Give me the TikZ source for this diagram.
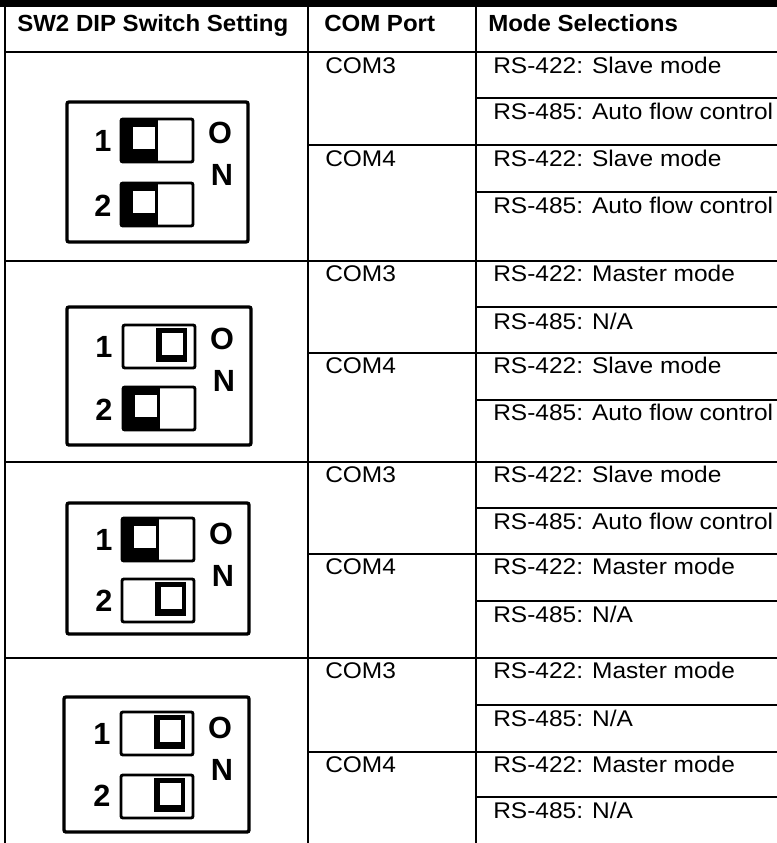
\documentclass[tikz,border=0pt]{standalone}
\usepackage{fontspec}
\setmainfont{Liberation Sans}
\newfontfamily\bodyfont[FakeStretch=1.08]{Liberation Sans}
\newfontfamily\headfont[FakeStretch=1.03]{Liberation Sans}
\usetikzlibrary{positioning}

% one slide switch, lever at the left (off) or at the right (on)
\newcommand{\swoff}[2]{%
  \fill (#1,#2) rectangle ++(37,43);
  \fill[white] (#1+12,#2+8) rectangle ++(22,22);
  \draw[swbody] (#1,#2) rectangle ++(72,43);
}
\newcommand{\swon}[2]{%
  \fill (#1+33,#2+3) rectangle ++(31,34);
  \fill[white] (#1+39,#2+8) rectangle ++(21,22);
  \draw[swbody] (#1,#2) rectangle ++(72,43);
}

\begin{document}
\begin{tikzpicture}[x=0.75pt,y=-0.75pt,
  tbl/.style={line width=1.5pt},
  dipframe/.style={line width=2.5pt,rounded corners=1.5pt},
  swbody/.style={line width=2.2pt,rounded corners=1.5pt},
  headtxt/.style={anchor=base west,inner sep=0pt,font=\headfont\bfseries\fontsize{17.5}{20}\selectfont},
  celltxt/.style={anchor=base west,inner sep=0pt,font=\bodyfont\fontsize{17}{20}\selectfont},
  diptxt/.style={inner sep=0pt,font=\bfseries\fontsize{23}{26}\selectfont}
]
\useasboundingbox (0,0) rectangle (777,843);

% the rules of the table
\fill (0,0) rectangle (777,7);
\draw[tbl] (4.5,7) -- (4.5,843);
\draw[tbl] (308,7) -- (308,843);
\draw[tbl] (476,7) -- (476,843);
\draw[tbl] (4.5,52) -- (777,52);
\draw[tbl] (4.5,261) -- (777,261);
\draw[tbl] (4.5,462) -- (777,462);
\draw[tbl] (4.5,658) -- (777,658);
\draw[tbl] (308,145) -- (777,145);
\draw[tbl] (308,353) -- (777,353);
\draw[tbl] (308,554) -- (777,554);
\draw[tbl] (308,752) -- (777,752);
\draw[tbl] (476,98) -- (777,98);
\draw[tbl] (476,192) -- (777,192);
\draw[tbl] (476,307) -- (777,307);
\draw[tbl] (476,400) -- (777,400);
\draw[tbl] (476,508) -- (777,508);
\draw[tbl] (476,601) -- (777,601);
\draw[tbl] (476,705) -- (777,705);
\draw[tbl] (476,797) -- (777,797);

% the header
\node[headtxt] (h1) at (17,31) {SW2 DIP Switch Setting};
\node[headtxt] (h2) at (324,31) {COM Port};
\node[headtxt] (h3) at (488,31) {Mode Selections};

% setting 1: both off
\draw[dipframe] (67,102) rectangle (248,242);
\swoff{121}{119}
\swoff{121}{183}
\node[diptxt] (d1a) at (103,141) {1};
\node[diptxt] (d1b) at (103,206) {2};
\node[diptxt] (o1) at (220,133) {O};
\node[diptxt,below=15pt of o1,xshift=1.5pt] (n1) {N};
\node[celltxt] (p1a) at (325,73) {COM3};
\node[celltxt] (p1b) at (325,166) {COM4};
\node[celltxt] (m1a) at (493,73) {RS-422: Slave mode};
\node[celltxt] (m1b) at (493,119) {RS-485: Auto flow control};
\node[celltxt] (m1c) at (493,166) {RS-422: Slave mode};
\node[celltxt] (m1d) at (493,213) {RS-485: Auto flow control};

% setting 2: 1 on, 2 off
\draw[dipframe] (67,307) rectangle (251,445);
\swon{123}{325}
\swoff{123}{387}
\node[diptxt] (d2a) at (104,347) {1};
\node[diptxt] (d2b) at (104,410) {2};
\node[diptxt] (o2) at (222,339) {O};
\node[diptxt,below=15pt of o2,xshift=1.5pt] (n2) {N};
\node[celltxt] (p2a) at (325,281) {COM3};
\node[celltxt] (p2b) at (325,373) {COM4};
\node[celltxt] (m2a) at (493,281) {RS-422: Master mode};
\node[celltxt] (m2b) at (493,329) {RS-485: N/A};
\node[celltxt] (m2c) at (493,373) {RS-422: Slave mode};
\node[celltxt] (m2d) at (493,420) {RS-485: Auto flow control};

% setting 3: 1 off, 2 on
\draw[dipframe] (67,503) rectangle (249,634);
\swoff{122}{518}
\swon{122}{579}
\node[diptxt] (d3a) at (104,540) {1};
\node[diptxt] (d3b) at (104,601) {2};
\node[diptxt] (o3) at (221,534) {O};
\node[diptxt,below=15pt of o3,xshift=1.5pt] (n3) {N};
\node[celltxt] (p3a) at (325,482) {COM3};
\node[celltxt] (p3b) at (325,574) {COM4};
\node[celltxt] (m3a) at (493,482) {RS-422: Slave mode};
\node[celltxt] (m3b) at (493,529) {RS-485: Auto flow control};
\node[celltxt] (m3c) at (493,574) {RS-422: Master mode};
\node[celltxt] (m3d) at (493,622) {RS-485: N/A};

% setting 4: both on
\draw[dipframe] (64,697) rectangle (249,832);
\swon{121}{712}
\swon{121}{775}
\node[diptxt] (d4a) at (102,734) {1};
\node[diptxt] (d4b) at (102,796) {2};
\node[diptxt] (o4) at (220,728) {O};
\node[diptxt,below=15pt of o4,xshift=1.5pt] (n4) {N};
\node[celltxt] (p4a) at (325,678) {COM3};
\node[celltxt] (p4b) at (325,772) {COM4};
\node[celltxt] (m4a) at (493,678) {RS-422: Master mode};
\node[celltxt] (m4b) at (493,726) {RS-485: N/A};
\node[celltxt] (m4c) at (493,772) {RS-422: Master mode};
\node[celltxt] (m4d) at (493,818) {RS-485: N/A};
\end{tikzpicture}
\end{document}
